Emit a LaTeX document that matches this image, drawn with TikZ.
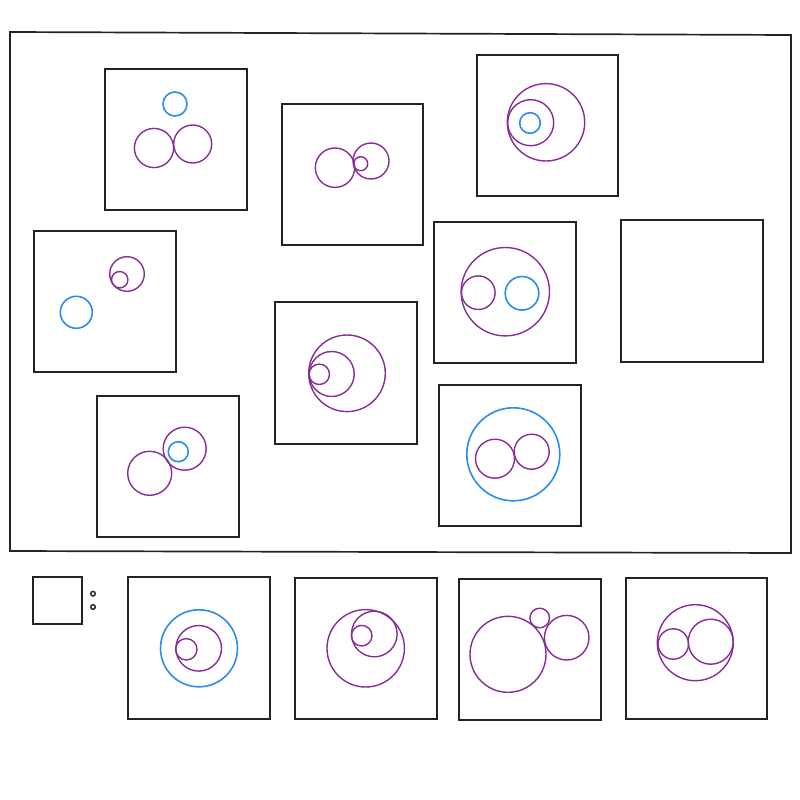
\documentclass[tikz,border=0pt]{standalone}
\usepackage{tikz}
\definecolor{pur}{RGB}{135,45,150}
\definecolor{blu}{RGB}{40,140,240}
\definecolor{frm}{RGB}{35,35,35}
\tikzset{
  panel/.style={draw=frm,line width=1.7pt},
  pc/.style={draw=pur,line width=1.4pt},
  bc/.style={draw=blu,line width=1.6pt},
  dotc/.style={draw=frm,line width=1.4pt}
}
\begin{document}
\begin{tikzpicture}[x=1pt,y=-1pt]
\useasboundingbox (0,0) rectangle (800,800);
% outer frame
\draw[panel] (10,32) -- (791,35) -- (791,553) -- (10,551) -- cycle;
% Box A
\draw[panel] (105,69) rectangle (247,210);
\draw[bc] (175,104) circle (12);
\draw[pc] (154,148) circle (19.6);
\draw[pc] (192.7,144) circle (19);
% Box B
\draw[panel] (282,104) rectangle (423,245);
\draw[pc] (335,167.7) circle (19.7);
\draw[pc] (371,161) circle (18);
\draw[pc] (360.7,163.7) circle (7);
% Box C
\draw[panel] (477,55) rectangle (618,196);
\draw[pc] (546,122.3) circle (38.7);
\draw[pc] (530.7,122.7) circle (23);
\draw[bc] (530,123) circle (10.3);
% Box D
\draw[panel] (434,222) rectangle (576,363);
\draw[pc] (505.3,291.7) circle (44.2);
\draw[pc] (478.3,292.7) circle (16.8);
\draw[bc] (522,293.3) circle (16.8);
% Box E (empty)
\draw[panel] (621,220) rectangle (763,362);
% Box F
\draw[panel] (34,231) rectangle (176,372);
\draw[bc] (76.3,312.3) circle (16);
\draw[pc] (127,274) circle (17.3);
\draw[pc] (119.7,279.7) circle (8.2);
% Box G
\draw[panel] (275,302) rectangle (417,444);
\draw[pc] (347,373.3) circle (38.3);
\draw[pc] (331.7,374) circle (22.5);
\draw[pc] (319.3,374.3) circle (10.2);
% Box H
\draw[panel] (97,396) rectangle (239,537);
\draw[pc] (149.7,473.3) circle (22);
\draw[pc] (184.7,448.7) circle (21.5);
\draw[bc] (178.3,451.7) circle (10);
% Box I
\draw[panel] (439,385) rectangle (581,526);
\draw[bc] (513.3,454.3) circle (46.5);
\draw[pc] (495,458.7) circle (19.5);
\draw[pc] (531.7,451.7) circle (17.5);
% bottom row: small box and dots
\draw[panel] (33,577) rectangle (82,624);
\draw[dotc] (93,593.7) circle (2.3);
\draw[dotc] (93,607) circle (2.3);
% Box J
\draw[panel] (128,577) rectangle (270,719);
\draw[bc] (199,648.3) circle (38.5);
\draw[pc] (198.7,648.3) circle (22.8);
\draw[pc] (186.3,649.3) circle (10.7);
% Box K
\draw[panel] (295,578) rectangle (437,719);
\draw[pc] (365.7,648.3) circle (38.7);
\draw[pc] (374.3,634) circle (22.8);
\draw[pc] (361.7,635.7) circle (10.3);
% Box L
\draw[panel] (459,579) rectangle (601,720);
\draw[pc] (508,654.3) circle (38);
\draw[pc] (566.7,637.7) circle (22.3);
\draw[pc] (539.7,618) circle (9.8);
% Box M
\draw[panel] (626,578) rectangle (767,719);
\draw[pc] (695.3,642.7) circle (38);
\draw[pc] (673.3,644) circle (15.2);
\draw[pc] (710.7,641.7) circle (22.5);
\end{tikzpicture}
\end{document}
